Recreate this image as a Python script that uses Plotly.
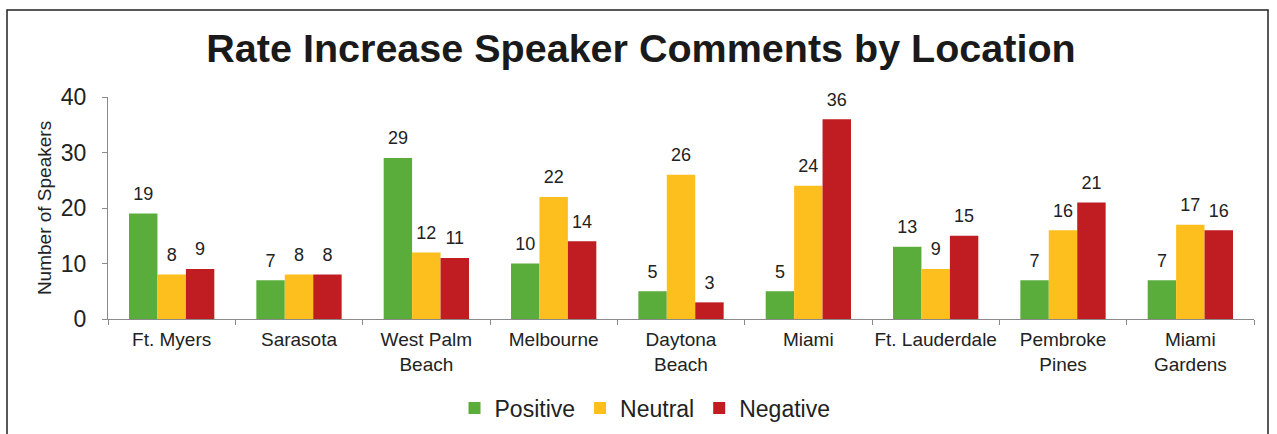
import plotly.graph_objects as go

locations = ["Ft. Myers", "Sarasota", "West Palm<br>Beach", "Melbourne", "Daytona<br>Beach",
             "Miami", "Ft. Lauderdale", "Pembroke<br>Pines", "Miami<br>Gardens"]
positive = [19, 7, 29, 10, 5, 5, 13, 7, 7]
neutral = [8, 8, 12, 22, 26, 24, 9, 16, 17]
negative = [9, 8, 11, 14, 3, 36, 15, 21, 16]
y_ticks = [0, 10, 20, 30, 40]

series = [("Positive", positive, "#5BAD3B"),
          ("Neutral", neutral, "#FDBF1D"),
          ("Negative", negative, "#BF1D22")]

fig = go.Figure()
for name, vals, color in series:
    fig.add_trace(go.Bar(
        x=locations, y=vals, name=name, marker_color=color, marker_line_width=0,
        offsetgroup=name, alignmentgroup="a",
    ))
for name, vals, color in series:
    fig.add_trace(go.Scatter(
        x=locations, y=vals, mode="markers+text", showlegend=False, hoverinfo="skip",
        offsetgroup=name, alignmentgroup="a",
        marker=dict(size=13, opacity=0),
        text=[str(v) for v in vals], textposition="top center",
        textfont=dict(size=18, color="#222222", family="Liberation Sans, Arial"),
        cliponaxis=False,
    ))

L, R, T, B = 108, 23, 97, 115
W, H = 1277, 434
pw, ph = W - L - R, H - T - B

fig.update_layout(
    width=W, height=H,
    margin=dict(l=L, r=R, t=T, b=B, autoexpand=False),
    paper_bgcolor="white", plot_bgcolor="white",
    font=dict(family="Liberation Sans, Arial", color="#222222"),
    barmode="group", bargap=0.33, bargroupgap=0,
    scattermode="group", scattergap=0.33,
    title=dict(text="<b>Rate Increase Speaker Comments by Location</b>",
               x=641 / W, xref="container", xanchor="center", y=1 - 48 / H, yanchor="middle",
               font=dict(size=39.5, color="#1a1a1a", family="Liberation Sans, Arial")),
    legend=dict(orientation="h", x=645 / W, xanchor="center", xref="container",
                y=-(408 - 319) / ph, yanchor="middle",
                font=dict(size=23, color="#222222"), itemsizing="constant",
                traceorder="normal"),
    showlegend=True,
    shapes=[dict(type="rect", xref="paper", yref="paper",
                 x0=(7 - L) / pw, x1=(1268 - L) / pw,
                 y0=(319 - 445) / ph, y1=(319 - 10) / ph,
                 line=dict(color="#222222", width=1.5), fillcolor="rgba(0,0,0,0)", layer="below")],
)
fig.update_xaxes(showline=True, linecolor="#8a8a8a", linewidth=1, automargin=False,
                 ticks="outside", tickson="boundaries", ticklen=5, tickcolor="#8a8a8a",
                 tickangle=0, ticklabelstandoff=3,
                 tickfont=dict(size=19, color="#222222"), showgrid=False)
fig.update_yaxes(range=[0, 40], tickvals=y_ticks, showline=True, linecolor="#8a8a8a", linewidth=1,
                 automargin=False, ticklabelstandoff=11,
                 ticks="outside", ticklen=5, tickcolor="#8a8a8a", showgrid=False, zeroline=False,
                 tickfont=dict(size=23, color="#222222"),
                 title=dict(text="Number of Speakers", font=dict(size=19, color="#222222"), standoff=4))

fig.write_html("out.html", post_script="document.body.style.margin='0';",
               config={"displayModeBar": False})
